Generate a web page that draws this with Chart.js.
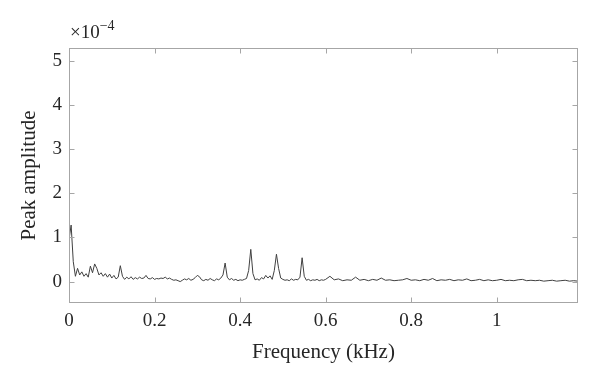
<!DOCTYPE html>
<html>
<head>
<meta charset="utf-8">
<script src="https://cdnjs.cloudflare.com/ajax/libs/Chart.js/4.4.0/chart.umd.min.js"></script>
<style>
  html, body { margin: 0; padding: 0; background: #fff; }
  #wrap { width: 600px; height: 381px; position: relative; }
</style>
</head>
<body>
<div id="wrap"><canvas id="spectrum"></canvas></div>
<script>
// frequency bins (kHz)
const freqs = [
  0.000, 0.005, 0.010, 0.015, 0.020, 0.025, 0.030, 0.035, 0.040, 0.045,
  0.050, 0.055, 0.060, 0.065, 0.070, 0.075, 0.080, 0.085, 0.090, 0.095,
  0.100, 0.105, 0.110, 0.115, 0.120, 0.125, 0.130, 0.135, 0.140, 0.145,
  0.150, 0.155, 0.160, 0.165, 0.170, 0.175, 0.180, 0.185, 0.190, 0.195,
  0.200, 0.205, 0.210, 0.215, 0.220, 0.225, 0.230, 0.235, 0.240, 0.245,
  0.250, 0.255, 0.260, 0.265, 0.270, 0.275, 0.280, 0.285, 0.290, 0.295,
  0.300, 0.305, 0.310, 0.315, 0.320, 0.325, 0.330, 0.335, 0.340, 0.345,
  0.350, 0.355, 0.360, 0.365, 0.370, 0.375, 0.380, 0.385, 0.390, 0.395,
  0.400, 0.405, 0.410, 0.415, 0.420, 0.425, 0.430, 0.435, 0.440, 0.445,
  0.450, 0.455, 0.460, 0.465, 0.470, 0.475, 0.480, 0.485, 0.490, 0.495,
  0.500, 0.505, 0.510, 0.515, 0.520, 0.525, 0.530, 0.535, 0.540, 0.545,
  0.550, 0.555, 0.560, 0.565, 0.570, 0.575, 0.580, 0.585, 0.590, 0.595,
  0.600, 0.61, 0.62, 0.63, 0.64, 0.65, 0.66, 0.67, 0.68, 0.69,
  0.70, 0.71, 0.72, 0.73, 0.74, 0.75, 0.76, 0.77, 0.78, 0.79,
  0.80, 0.81, 0.82, 0.83, 0.84, 0.85, 0.86, 0.87, 0.88, 0.89,
  0.90, 0.91, 0.92, 0.93, 0.94, 0.95, 0.96, 0.97, 0.98, 0.99,
  1.00, 1.01, 1.02, 1.03, 1.04, 1.05, 1.06, 1.07, 1.08, 1.09,
  1.10, 1.11, 1.12, 1.13, 1.14, 1.15, 1.16, 1.17, 1.18, 1.19
];

// peak amplitude, in units of 1e-4
const amplitude = [
  0.95, 1.28, 0.45, 0.12, 0.30, 0.15, 0.22, 0.12, 0.18, 0.10,
  0.35, 0.20, 0.40, 0.30, 0.15, 0.20, 0.12, 0.18, 0.10, 0.17,
  0.08, 0.14, 0.06, 0.10, 0.36, 0.12, 0.05, 0.10, 0.06, 0.11,
  0.05, 0.09, 0.06, 0.10, 0.07, 0.08, 0.14, 0.07, 0.06, 0.09,
  0.05, 0.07, 0.06, 0.08, 0.07, 0.10, 0.06, 0.08, 0.05, 0.03,
  0.04, 0.02, 0.00, 0.03, 0.06, 0.04, 0.07, 0.03, 0.05, 0.09,
  0.14, 0.11, 0.04, 0.02, 0.05, 0.03, 0.07, 0.04, 0.02, 0.06,
  0.04, 0.08, 0.15, 0.42, 0.10, 0.04, 0.07, 0.03, 0.05, 0.02,
  0.04, 0.03, 0.05, 0.07, 0.25, 0.73, 0.18, 0.04, 0.06, 0.03,
  0.09, 0.06, 0.14, 0.08, 0.13, 0.05, 0.25, 0.62, 0.30, 0.08,
  0.05, 0.03, 0.04, 0.02, 0.06, 0.03, 0.05, 0.04, 0.10, 0.54,
  0.12, 0.03, 0.05, 0.02, 0.04, 0.03, 0.05, 0.02, 0.04, 0.03,
  0.05, 0.12, 0.04, 0.06, 0.02, 0.04, 0.03, 0.10, 0.03, 0.05,
  0.02, 0.05, 0.03, 0.08, 0.03, 0.04, 0.02, 0.03, 0.04, 0.07,
  0.03, 0.04, 0.02, 0.05, 0.03, 0.07, 0.02, 0.04, 0.03, 0.05,
  0.02, 0.04, 0.03, 0.06, 0.02, 0.03, 0.05, 0.02, 0.04, 0.02,
  0.03, 0.05, 0.02, 0.03, 0.02, 0.04, 0.05, 0.02, 0.03, 0.02,
  0.03, 0.01, 0.02, 0.03, 0.01, 0.02, 0.03, 0.01, 0.02, 0.01
];

const xTicks = [0, 0.2, 0.4, 0.6, 0.8, 1];
const yTicks = [0, 1, 2, 3, 4, 5];

const FONT = "'Liberation Serif', 'DejaVu Serif', serif";
const AXIS_GRAY = "#a6a6a6";

// MATLAB-style box with inward ticks, plus the x10^-4 exponent label
const boxPlugin = {
  id: "box",
  afterDatasetsDraw(chart) {
    const { ctx, chartArea: a, scales } = chart;
    const L = Math.round(a.left) + 0.5, R = Math.round(a.right) - 0.5;
    const T = Math.round(a.top) + 0.5, B = Math.round(a.bottom) - 0.5;
    ctx.save();
    ctx.strokeStyle = AXIS_GRAY;
    ctx.lineWidth = 1;
    ctx.strokeRect(L, T, R - L, B - T);
    ctx.beginPath();
    scales.x.ticks.forEach(t => {
      const px = Math.round(scales.x.getPixelForValue(t.value)) + 0.5;
      ctx.moveTo(px, B); ctx.lineTo(px, B - 5);
      ctx.moveTo(px, T); ctx.lineTo(px, T + 5);
    });
    scales.y.ticks.forEach(t => {
      const py = Math.round(scales.y.getPixelForValue(t.value)) + 0.5;
      ctx.moveTo(L, py); ctx.lineTo(L + 5, py);
      ctx.moveTo(R, py); ctx.lineTo(R - 5, py);
    });
    ctx.stroke();

    ctx.fillStyle = "#262626";
    ctx.textBaseline = "alphabetic";
    ctx.font = "19px " + FONT;
    ctx.fillText("\u00d710", a.left + 1, a.top - 10);
    const w = ctx.measureText("\u00d710").width;
    ctx.font = "14px " + FONT;
    ctx.fillText("\u22124", a.left + 1 + w, a.top - 18);
    ctx.restore();
  }
};

new Chart(document.getElementById("spectrum"), {
  type: "line",
  data: {
    datasets: [{
      data: freqs.map((f, i) => ({ x: f, y: amplitude[i] })),
      borderColor: "#404040",
      borderWidth: 1,
      pointRadius: 0,
      tension: 0,
      fill: false
    }]
  },
  options: {
    responsive: true,
    maintainAspectRatio: false,
    animation: false,
    layout: { padding: { top: 48, right: 22, left: 0, bottom: 0 } },
    plugins: {
      legend: { display: false },
      tooltip: { enabled: false }
    },
    scales: {
      x: {
        type: "linear",
        min: 0,
        max: 1.19,
        afterBuildTicks: s => { s.ticks = xTicks.map(v => ({ value: v })); },
        afterFit: s => { s.height = 78; },
        grid: { display: false, drawTicks: false },
        border: { display: false },
        ticks: {
          padding: 7,
          color: "#262626",
          font: { family: FONT, size: 19 },
          maxRotation: 0,
          callback: v => String(v)
        },
        title: {
          display: true,
          text: "Frequency (kHz)",
          color: "#262626",
          font: { family: FONT, size: 21 },
          padding: { top: 2, bottom: 16 }
        }
      },
      y: {
        type: "linear",
        min: -0.485,
        max: 5.29,
        afterBuildTicks: s => { s.ticks = yTicks.map(v => ({ value: v })); },
        afterFit: s => { s.width = 69; },
        grid: { display: false, drawTicks: false },
        border: { display: false },
        ticks: {
          padding: 7,
          color: "#262626",
          font: { family: FONT, size: 19 },
          callback: v => String(v)
        },
        title: {
          display: true,
          text: "Peak amplitude",
          color: "#262626",
          font: { family: FONT, size: 21 },
          padding: { top: 17, bottom: 0 }
        }
      }
    }
  },
  plugins: [boxPlugin]
});
</script>
</body>
</html>
